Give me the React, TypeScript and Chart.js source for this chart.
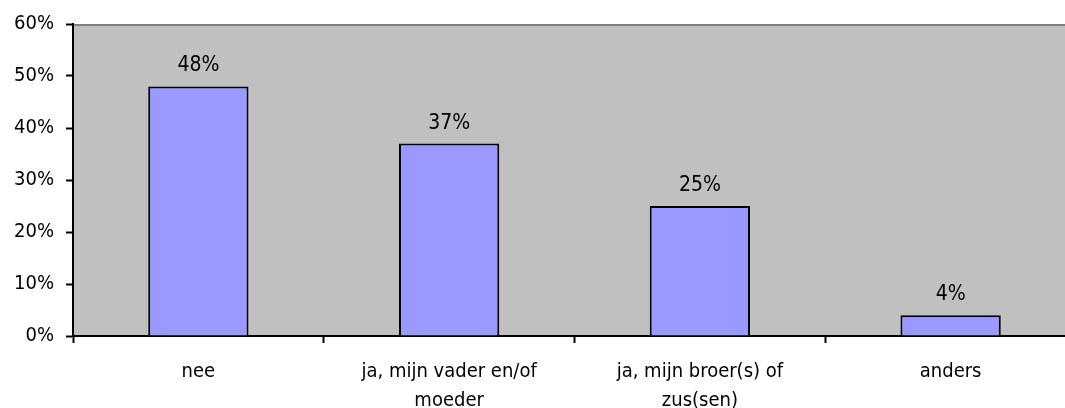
import React, { useEffect, useRef } from "react";
import { Chart, registerables } from "chart.js";

Chart.register(...registerables);

const categories: (string | string[])[] = [
  "nee",
  ["ja, mijn vader en/of", "moeder"],
  ["ja, mijn broer(s) of", "zus(sen)"],
  "anders",
];
const values: number[] = [48, 37, 25, 4];
const yMin = 0;
const yMax = 60;
const yStep = 10;

const FONT = "'DejaVu Sans Condensed', Tahoma, 'DejaVu Sans', sans-serif";

const bgPlugin = {
  id: "plotBg",
  beforeDraw(chart: any) {
    const { ctx, chartArea } = chart;
    ctx.save();
    ctx.fillStyle = "#C0C0C0";
    ctx.fillRect(chartArea.left, chartArea.top, chartArea.right - chartArea.left, chartArea.bottom - chartArea.top);
    ctx.strokeStyle = "#808080";
    ctx.lineWidth = 2;
    ctx.beginPath();
    ctx.moveTo(chartArea.left, chartArea.top + 1);
    ctx.lineTo(chartArea.right, chartArea.top + 1);
    ctx.stroke();
    ctx.restore();
  },
};

const valueLabelPlugin = {
  id: "valueLabels",
  afterDatasetsDraw(chart: any) {
    const { ctx } = chart;
    const meta = chart.getDatasetMeta(0);
    ctx.save();
    ctx.fillStyle = "#000";
    ctx.font = `21px ${FONT}`;
    ctx.textAlign = "center";
    ctx.textBaseline = "alphabetic";
    meta.data.forEach((bar: any, i: number) => {
      ctx.fillText(`${values[i]}%`, bar.x, bar.y - 15);
    });
    ctx.restore();
  },
};

export default function App() {
  const ref = useRef<HTMLCanvasElement>(null);
  useEffect(() => {
    if (!ref.current) return;
    const chart = new Chart(ref.current, {
      type: "bar",
      data: {
        labels: categories,
        datasets: [
          {
            data: values,
            backgroundColor: "#9999FF",
            borderColor: "#000000",
            borderWidth: 2,
            barPercentage: 0.4,
            categoryPercentage: 1,
          },
        ],
      },
      options: {
        responsive: false,
        animation: false,
        layout: { padding: { top: 24, right: 0, left: 0, bottom: 0 } },
        plugins: {
          legend: { display: false },
          tooltip: { enabled: false },
          title: { display: false },
        },
        scales: {
          x: {
            offset: true,
            grid: {
              offset: true,
              drawOnChartArea: false,
              drawTicks: true,
              tickLength: 7,
              tickWidth: 2,
              tickColor: "#000",
            },
            border: { display: true, color: "#000", width: 2 },
            ticks: {
              color: "#000",
              font: { family: FONT, size: 20, lineHeight: 1.45 },
              padding: 14,
              maxRotation: 0,
              autoSkip: false,
            },
            afterFit(scale: any) {
              scale.height = 72;
            },
          },
          y: {
            min: yMin,
            max: yMax,
            grid: {
              drawOnChartArea: false,
              drawTicks: true,
              tickLength: 7,
              tickWidth: 2,
              tickColor: "#000",
            },
            border: { display: true, color: "#000", width: 2 },
            ticks: {
              stepSize: yStep,
              color: "#000",
              font: { family: FONT, size: 20 },
              padding: 12,
              callback: (v: any) => `${v}%`,
            },
            afterFit(scale: any) {
              scale.width = 73;
            },
          },
        },
      },
      plugins: [bgPlugin, valueLabelPlugin],
    });
    return () => chart.destroy();
  }, []);
  return (
    <div style={{ position: "fixed", left: 0, top: 0, width: 1076, height: 408, background: "#fff" }}>
      <canvas ref={ref} width={1076} height={408} style={{ display: "block" }} />
    </div>
  );
}
